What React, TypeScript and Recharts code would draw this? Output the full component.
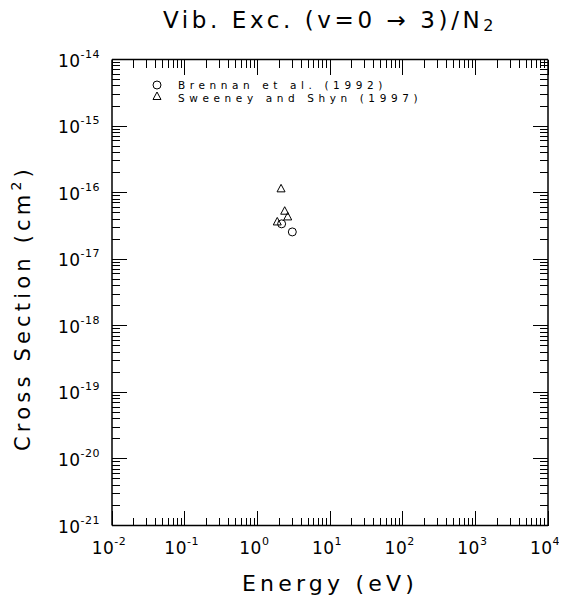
import { Scatter, ScatterChart, XAxis, YAxis } from 'recharts'

// decade exponents for the log axes
const xDecades = [-2, -1, 0, 1, 2, 3, 4]
const yDecades = [-21, -20, -19, -18, -17, -16, -15, -14]
const minorSteps = [2, 3, 4, 5, 6, 7, 8, 9]

// Brennan et al. (1992)
const brennanEnergy = [2.16, 3.03]
const brennanSigma = [3.4e-17, 2.57e-17]

// Sweeney and Shyn (1997)
const sweeneyEnergy = [1.88, 2.12, 2.38, 2.62]
const sweeneySigma = [3.63e-17, 1.14e-16, 5.26e-17, 4.32e-17]

const brennanData = brennanEnergy.map((e, i) => ({ e, s: brennanSigma[i] }))
const sweeneyData = sweeneyEnergy.map((e, i) => ({ e, s: sweeneySigma[i] }))

const buildTicks = (decades: number[]): number[] => {
  const out: number[] = []
  decades.forEach((d, i) => {
    out.push(Math.pow(10, d))
    if (i < decades.length - 1) minorSteps.forEach((m) => out.push(m * Math.pow(10, d)))
  })
  return out
}

const xTicks = buildTicks(xDecades)
const yTicks = buildTicks(yDecades)

const FONT = "'DejaVu Sans', sans-serif"
const WEIGHT = 400
const MAJOR = 15
const MINOR = 8

const expOf = (v: number) => Math.round(Math.log10(v))
const isMajor = (v: number) => Math.abs(Math.log10(v) - expOf(v)) < 1e-6

const PowLabel = ({ x, y, exp, anchor }: { x: number; y: number; exp: number; anchor: 'middle' | 'end' }) => (
  <text x={x} y={y} textAnchor={anchor} fontFamily={FONT} fontWeight={WEIGHT} fontSize={17} letterSpacing={0.5} fill="#000">
    10
    <tspan dy={-9} fontSize={11} letterSpacing={0.5}>
      {exp}
    </tspan>
  </text>
)

const BottomTick = ({ x, y, payload }: any) => {
  const major = isMajor(payload.value)
  return (
    <g>
      <line x1={x} x2={x} y1={y} y2={y - (major ? MAJOR : MINOR)} stroke="#000" shapeRendering="crispEdges" />
      {major && <PowLabel x={x - 3} y={y + 28} exp={expOf(payload.value)} anchor="middle" />}
    </g>
  )
}

const TopTick = ({ x, y, payload }: any) => {
  const major = isMajor(payload.value)
  return <line x1={x} x2={x} y1={y} y2={y + (major ? MAJOR : MINOR)} stroke="#000" shapeRendering="crispEdges" />
}

const LeftTick = ({ x, y, payload }: any) => {
  const major = isMajor(payload.value)
  return (
    <g>
      <line x1={x} x2={x + (major ? MAJOR : MINOR)} y1={y} y2={y} stroke="#000" shapeRendering="crispEdges" />
      {major && <PowLabel x={x - 12} y={y + 7} exp={expOf(payload.value)} anchor="end" />}
    </g>
  )
}

const RightTick = ({ x, y, payload }: any) => {
  const major = isMajor(payload.value)
  return <line x1={x} x2={x - (major ? MAJOR : MINOR)} y1={y} y2={y} stroke="#000" shapeRendering="crispEdges" />
}

const CircleMark = (p: any) => <circle cx={p.cx} cy={p.cy} r={4} fill="none" stroke="#000" />
const TriangleMark = (p: any) => (
  <path d={`M${p.cx},${p.cy - 4.5} L${p.cx + 4},${p.cy + 3} L${p.cx - 4},${p.cy + 3} Z`} fill="none" stroke="#000" />
)

const axisLine = { stroke: '#000', strokeWidth: 1.5 }

const W = 559
const H = 592

export default function App() {
  return (
    <div style={{ position: 'relative', width: W, height: H }}>
      <ScatterChart width={W} height={H} margin={{ top: 50.5, right: 18, bottom: 34.5, left: 44 }}>
        <XAxis
          dataKey="e"
          type="number"
          scale="log"
          domain={[0.01, 10000]}
          ticks={xTicks}
          interval={0}
          allowDataOverflow
          height={40}
          tickSize={0}
          tickMargin={0}
          tickLine={false}
          axisLine={axisLine}
          tick={<BottomTick />}
        />
        <XAxis
          xAxisId="top"
          orientation="top"
          dataKey="e"
          type="number"
          scale="log"
          domain={[0.01, 10000]}
          ticks={xTicks}
          interval={0}
          allowDataOverflow
          height={1}
          tickSize={0}
          tickMargin={0}
          tickLine={false}
          axisLine={axisLine}
          tick={<TopTick />}
        />
        <YAxis
          dataKey="s"
          type="number"
          scale="log"
          domain={[1e-21, 1e-14]}
          ticks={yTicks}
          interval={0}
          allowDataOverflow
          width={60}
          tickSize={0}
          tickMargin={0}
          tickLine={false}
          axisLine={axisLine}
          tick={<LeftTick />}
        />
        <YAxis
          yAxisId="right"
          orientation="right"
          dataKey="s"
          type="number"
          scale="log"
          domain={[1e-21, 1e-14]}
          ticks={yTicks}
          interval={0}
          allowDataOverflow
          width={1}
          tickSize={0}
          tickMargin={0}
          tickLine={false}
          axisLine={axisLine}
          tick={<RightTick />}
        />
        <Scatter data={brennanData} shape={CircleMark} isAnimationActive={false} />
        <Scatter data={sweeneyData} shape={TriangleMark} isAnimationActive={false} />
      </ScatterChart>
      {/* overlay in page coordinates (offset by the body margin) */}
      <svg
        width={W + 8}
        height={H + 8}
        style={{ position: 'absolute', left: -8, top: -8, pointerEvents: 'none' }}
        fontFamily={FONT}
        fontWeight={WEIGHT}
        fill="#000"
      >
        <text x={330} y={28} textAnchor="middle" fontSize={23} letterSpacing={3.6}>
          Vib. Exc. (v=0 → 3)/N
          <tspan fontSize={16} dy={3}>2</tspan>
        </text>
        <text x={330} y={591} textAnchor="middle" fontSize={22} letterSpacing={4.2}>
          Energy (eV)
        </text>
        <text x={30} y={308} textAnchor="middle" fontSize={21} letterSpacing={4.2} transform="rotate(-90 30 308)">
          Cross Section (cm
          <tspan fontSize={14} dy={-9}>2</tspan>
          <tspan dy={9}>)</tspan>
        </text>
        <circle cx={157} cy={85} r={4} fill="none" stroke="#000" />
        <text x={178} y={89} fontSize={10.5} letterSpacing={4.6}>
          Brennan et al. (1992)
        </text>
        <path d="M157,92 L161,99.5 L153,99.5 Z" fill="none" stroke="#000" />
        <text x={178} y={101.5} fontSize={10.5} letterSpacing={4.6}>
          Sweeney and Shyn (1997)
        </text>
      </svg>
    </div>
  )
}
